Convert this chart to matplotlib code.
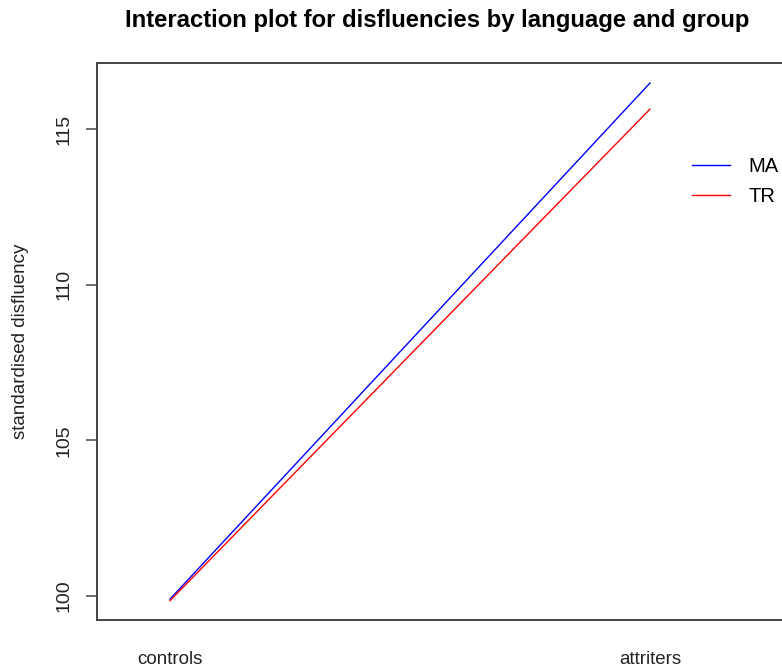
import matplotlib
matplotlib.use("Agg")
import matplotlib.pyplot as plt

plt.rcParams['font.family'] = ['Liberation Sans', 'DejaVu Sans']

groups = ["controls", "attriters"]
ma = [99.9, 116.48]
tr = [99.85, 115.64]
yticks = [100, 105, 110, 115]

fig = plt.figure(figsize=(7.82, 6.68), dpi=100)
# axes run past the right edge, as in the cropped original
ax = fig.add_axes([97/782, 1-620/668, (830-97)/782, (620-63)/668])

xpos = [1, 2]
ax.plot(xpos, ma, color="#0000ff", lw=1, label="MA")
ax.plot(xpos, tr, color="#ff0000", lw=1, label="TR")

ax.set_xlim(1 - 73/480, 2 + 180/480)
ax.set_ylim(100 - 24/31.1, 115 + 66/31.1)

ax.set_xticks(xpos)
ax.set_xticklabels(groups, fontsize=13.5, color="#222222")
ax.tick_params(axis="x", length=0, pad=22)
ax.set_yticks(yticks)
ax.set_yticklabels([str(v) for v in yticks], rotation=90, va="center",
                   fontsize=14, color="#222222")
ax.tick_params(axis="y", length=8, width=1.2, color="#555555", pad=10)

for side in ["left", "top", "bottom"]:
    ax.spines[side].set_color("#444444")
    ax.spines[side].set_linewidth(1.4)
ax.spines["right"].set_visible(False)

ax.set_ylabel("standardised disfluency", fontsize=13.5, color="#222222", labelpad=19)

fig.text(437/782, 1-20/668, "Interaction plot for disfluencies by language and group",
         ha="center", va="center", fontsize=17.2, fontweight="bold")

ax.legend(loc="upper left", bbox_to_anchor=(686/782, 1-151/668),
          bbox_transform=fig.transFigure, frameon=False, fontsize=14.5,
          handlelength=1.9, handletextpad=0.9, labelspacing=0.55,
          borderaxespad=0, borderpad=0.3)

fig.savefig("out.png", dpi=100)
